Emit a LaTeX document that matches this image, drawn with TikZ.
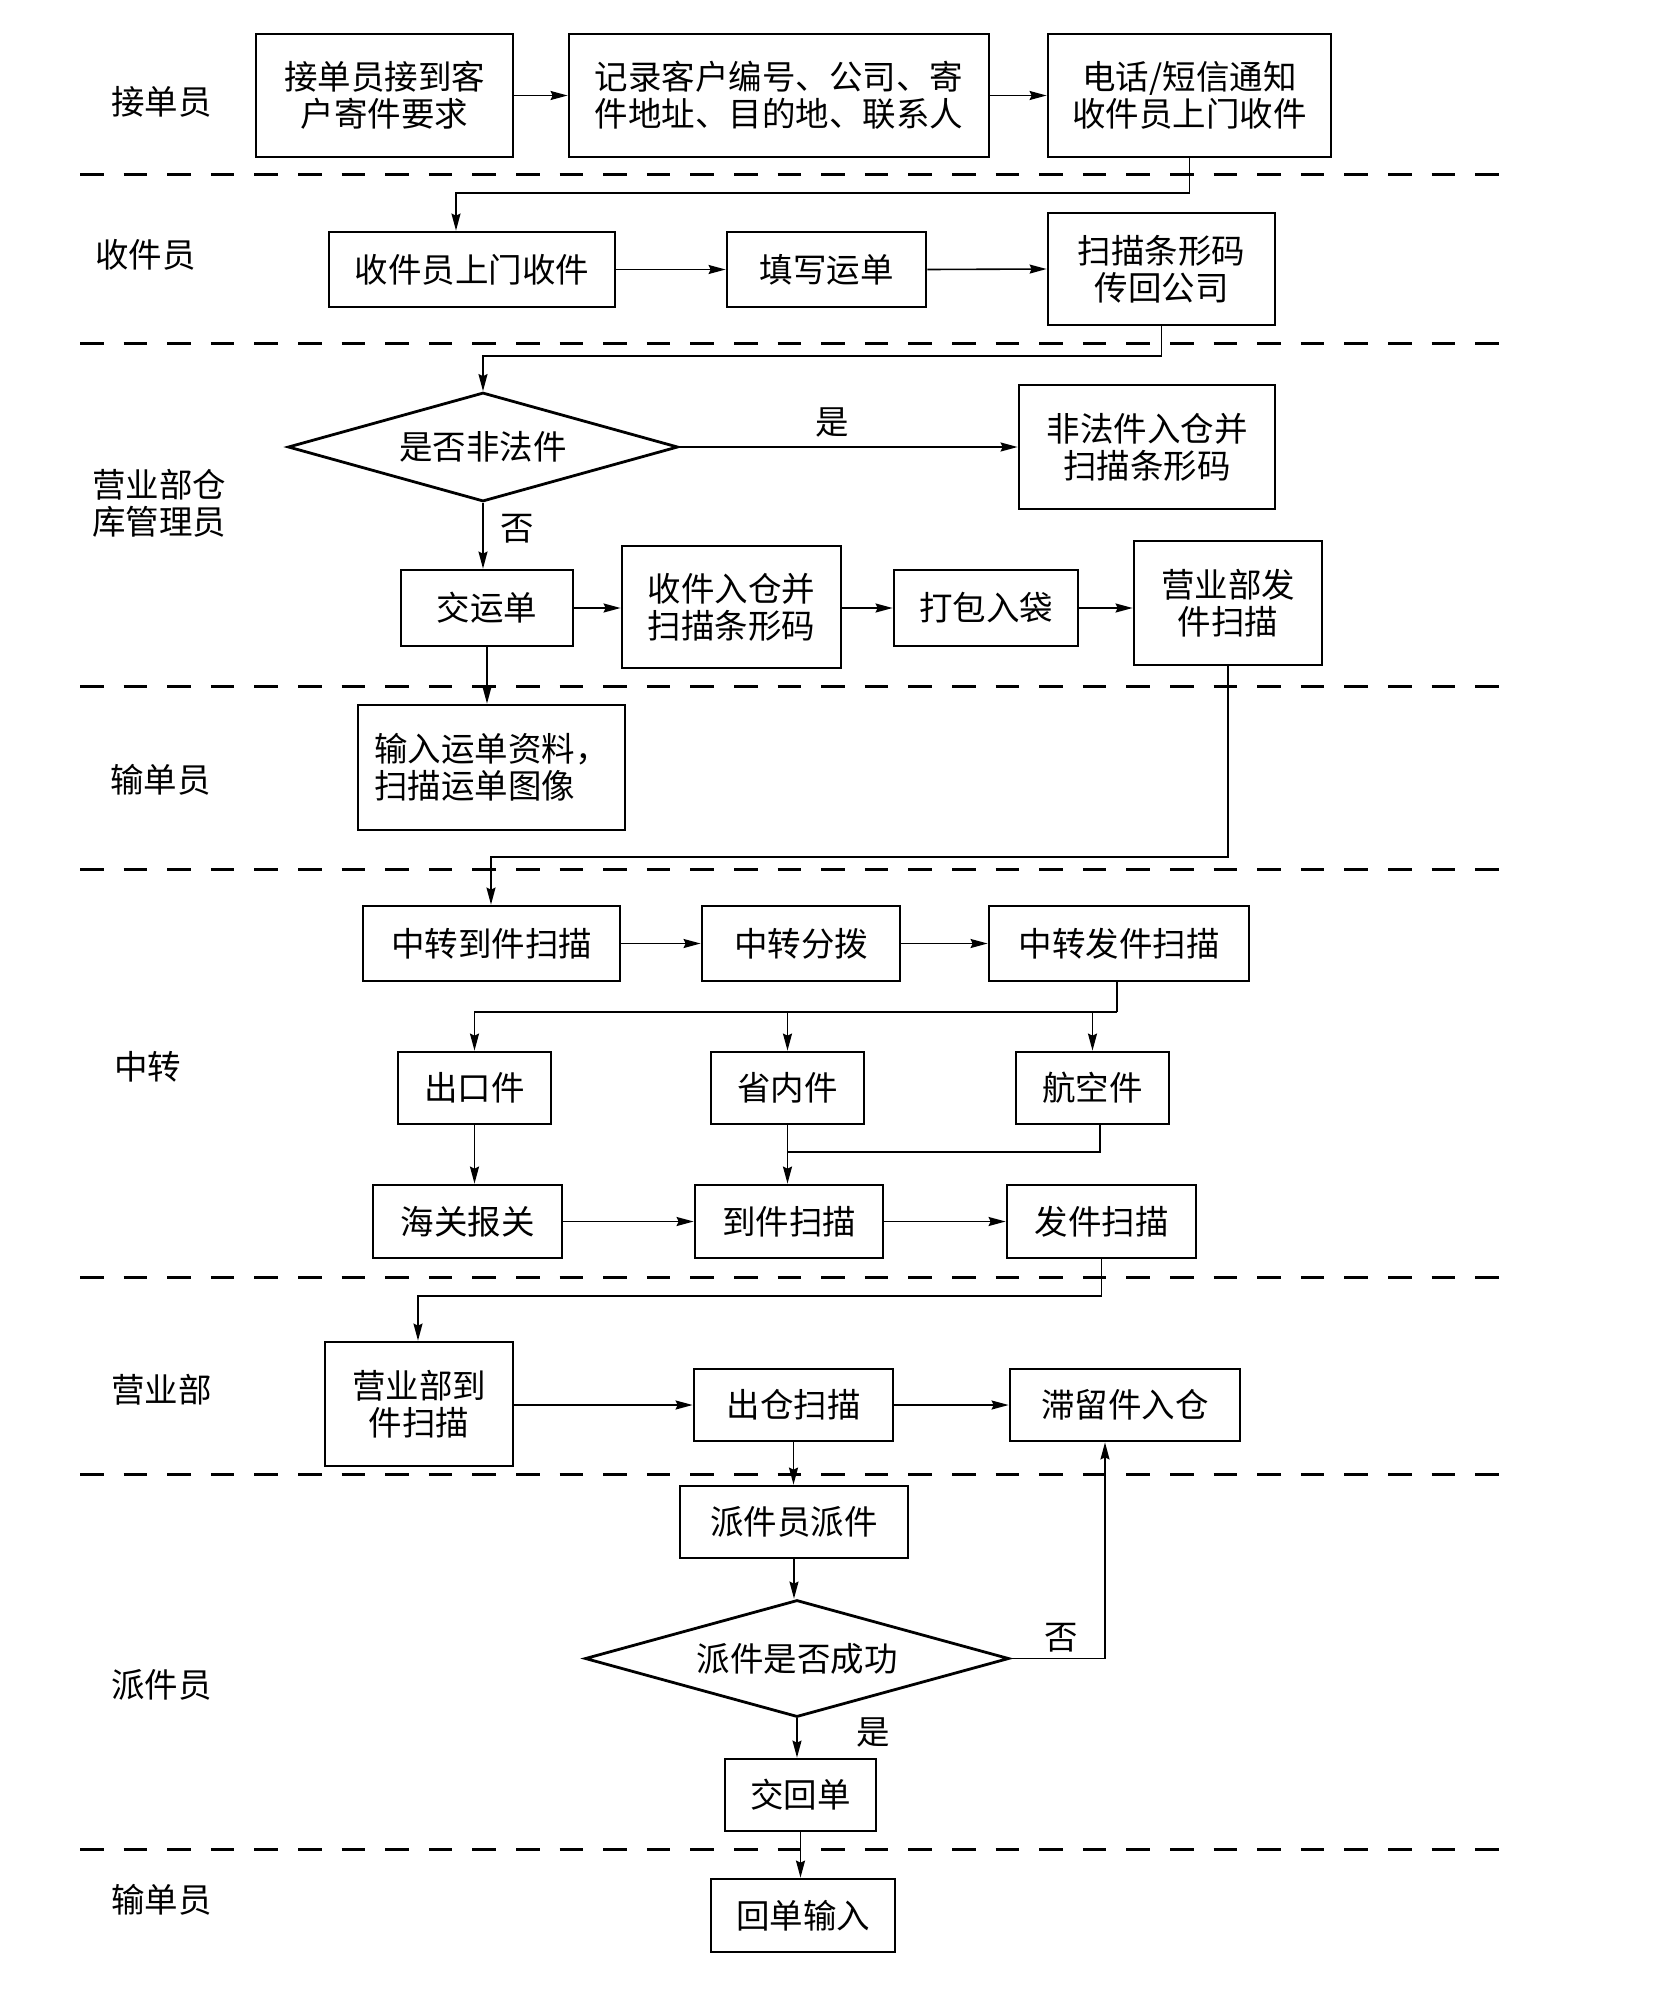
\documentclass[tikz,border=0pt]{standalone}
\usepackage{fontspec}
\setmainfont{Noto Sans CJK SC}
\usetikzlibrary{shapes.geometric,arrows.meta}
\begin{document}
\begin{tikzpicture}[x=1pt,y=-1pt,
  txt/.style={font=\fontsize{33.5}{37}\selectfont},
  box/.style={txt,draw,line width=2.8pt,inner sep=0pt,align=center},
  dia/.style={txt,draw,diamond,line width=2.8pt,inner sep=0pt},
  conn/.style={line width=1.6pt},
  arr/.style={conn,-{Stealth[length=17pt,width=9pt,inset=2pt]}},
  lane/.style={txt,inner sep=0pt,anchor=west,align=left},
  sep/.style={line width=3pt,dash pattern=on 23.5pt off 20.1pt},
  lbl/.style={txt,inner sep=0pt}]
\useasboundingbox (0,0) rectangle (1679,1992);

% lane separators
\foreach \yy in {174,343,686,869,1277,1474,1849}
  \draw[sep] (80,\yy) -- (1499,\yy);

% lane labels
\node[lane] (l1) at (111,102) {接单员};
\node[lane] (l2) at (95,255) {收件员};
\node[lane] (l3) at (92,503) {营业部仓\\库管理员};
\node[lane] (l4) at (110,780) {输单员};
\node[lane] (l5) at (114,1067) {中转};
\node[lane] (l6) at (111,1390) {营业部};
\node[lane] (l7) at (111,1685) {派件员};
\node[lane] (l8) at (111,1900) {输单员};

% nodes
\node[box,minimum width=257pt,minimum height=123pt] (A) at (384.5,95.5) {接单员接到客\\户寄件要求};
\node[box,minimum width=420pt,minimum height=123pt] (B) at (779,95.5) {记录客户编号、公司、寄\\件地址、目的地、联系人};
\node[box,minimum width=283pt,minimum height=123pt] (C) at (1189.5,95.5) {电话/短信通知\\收件员上门收件};
\node[box,minimum width=286pt,minimum height=75pt] (D) at (472,269.5) {收件员上门收件};
\node[box,minimum width=199pt,minimum height=75pt] (E) at (826.5,269.5) {填写运单};
\node[box,minimum width=227pt,minimum height=112pt] (F) at (1161.5,269) {扫描条形码\\传回公司};
\node[dia,aspect=3.58,minimum width=390pt,minimum height=109pt] (G) at (483,447) {是否非法件};
\node[box,minimum width=256pt,minimum height=124pt] (H) at (1147,447) {非法件入仓并\\扫描条形码};
\node[box,minimum width=172pt,minimum height=76pt] (I) at (487,608) {交运单};
\node[box,minimum width=219pt,minimum height=122pt] (J) at (731.5,607) {收件入仓并\\扫描条形码};
\node[box,minimum width=184pt,minimum height=76pt] (K) at (986,608) {打包入袋};
\node[box,minimum width=188pt,minimum height=124pt] (L) at (1228,603) {营业部发\\件扫描};
\node[box,minimum width=267pt,minimum height=125pt,align=left] (M) at (491.5,767.5) {输入运单资料，\\扫描运单图像};
\node[box,minimum width=257pt,minimum height=75pt] (N) at (491.5,943.5) {中转到件扫描};
\node[box,minimum width=198pt,minimum height=75pt] (O) at (801,943.5) {中转分拨};
\node[box,minimum width=260pt,minimum height=75pt] (P) at (1119,943.5) {中转发件扫描};
\node[box,minimum width=153pt,minimum height=72pt] (Q) at (474.5,1088) {出口件};
\node[box,minimum width=153pt,minimum height=72pt] (R) at (787.5,1088) {省内件};
\node[box,minimum width=153pt,minimum height=72pt] (S) at (1092.5,1088) {航空件};
\node[box,minimum width=189pt,minimum height=73pt] (T) at (467.5,1221.5) {海关报关};
\node[box,minimum width=188pt,minimum height=73pt] (U) at (789,1221.5) {到件扫描};
\node[box,minimum width=189pt,minimum height=73pt] (V) at (1101.5,1221.5) {发件扫描};
\node[box,minimum width=188pt,minimum height=124pt] (W) at (419,1404) {营业部到\\件扫描};
\node[box,minimum width=199pt,minimum height=72pt] (X) at (793.5,1405) {出仓扫描};
\node[box,minimum width=230pt,minimum height=72pt] (Y) at (1125,1405) {滞留件入仓};
\node[box,minimum width=228pt,minimum height=72pt] (Z) at (794,1522) {派件员派件};
\node[dia,aspect=3.62,minimum width=424pt,minimum height=117pt] (AA) at (797,1658.5) {派件是否成功};
\node[box,minimum width=151pt,minimum height=72pt] (AB) at (800.5,1795) {交回单};
\node[box,minimum width=184pt,minimum height=73pt] (AC) at (803,1915.5) {回单输入};

% connectors
\draw[arr] (A.east) -- (B.west);
\draw[arr] (B.east) -- (C.west);
\draw[arr] (C.south) |- (456,193) -- (456,0 |- D.north);
\draw[arr] (D.east) -- (E.west);
\draw[arr] (E.east) -- (F.west);
\draw[arr] (F.south) |- (483,356) -- (G.north);
\draw[arr] (G.east) -- (H.west);
\node[lbl] (yes1) at (832,422) {是};
\draw[arr] (G.south) -- (G.south |- I.north);
\node[lbl] (no1) at (517,529) {否};
\draw[arr] (I.east) -- (I.east -| J.west);
\draw[arr] (J.east |- K.west) -- (K.west);
\draw[arr] (K.east) -- (K.east -| L.west);
\draw[arr] (I.south) -- (I.south |- M.north);
\draw[arr] (L.south) |- (491,857) -- (491,0 |- N.north);
\draw[arr] (N.east) -- (O.west);
\draw[arr] (O.east) -- (P.west);
\coordinate (b1) at (1117,1012);
\draw[conn] (P.south -| b1) -- (b1);
\draw[arr] (b1) -| (Q.north);
\draw[arr] (R.north |- b1) -- (R.north);
\draw[arr] (S.north |- b1) -- (S.north);
\draw[arr] (Q.south) -- (Q.south |- T.north);
\draw[arr] (R.south) -- (R.south |- U.north);
\draw[conn] (1100,0 |- S.south) |- (R.south |- 0,1152);
\draw[arr] (T.east) -- (U.west);
\draw[arr] (U.east) -- (V.west);
\draw[arr] (V.south) |- (418,1296) -- (418,0 |- W.north);
\draw[arr] (W.east |- X.west) -- (X.west);
\draw[arr] (X.east) -- (Y.west);
\draw[arr] (X.south) -- (X.south |- Z.north);
\draw[arr] (Z.south) -- (Z.south |- AA.north);
\draw[arr] (AA.east) -| ([xshift=-20pt]Y.south);
\node[lbl] (no2) at (1061,1638) {否};
\draw[arr] (AA.south) -- (AA.south |- AB.north);
\node[lbl] (yes2) at (873,1732) {是};
\draw[arr] (AB.south) -- (AB.south |- AC.north);
\end{tikzpicture}
\end{document}
